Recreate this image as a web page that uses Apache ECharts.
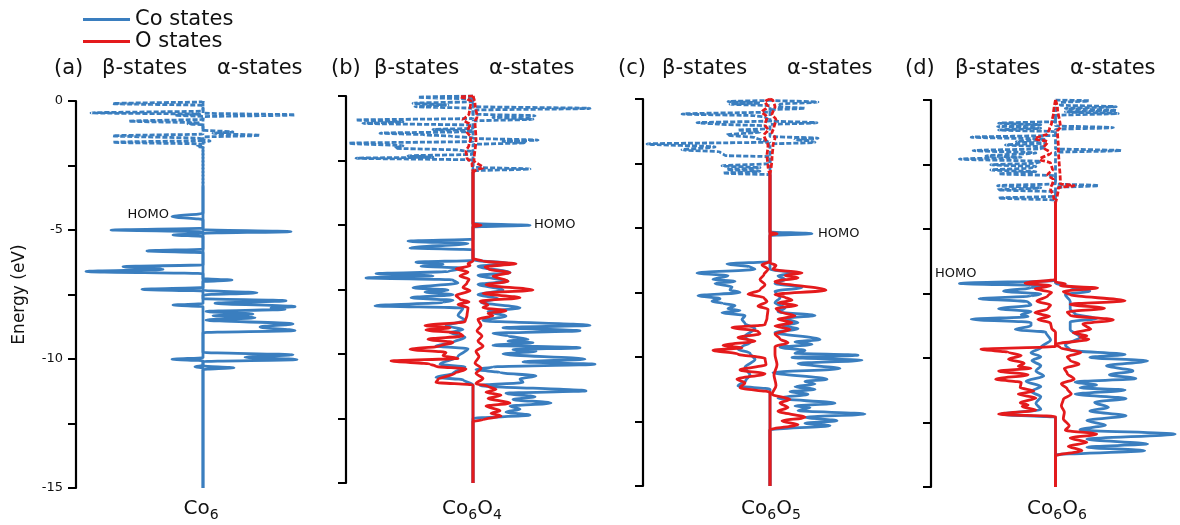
<!DOCTYPE html>
<html lang="en">
<head>
    <meta charset="UTF-8">
    <title>Co6On DOS</title>
    <script src="https://cdn.jsdelivr.net/npm/echarts@6/dist/echarts.min.js"></script>
    <style>
        html, body { margin: 0; padding: 0; background: #fff; }
        #main { width: 1180px; height: 525px; }
    </style>
</head>
<body>
<div id="main"></div>
<script>
    // 每条曲线: [能量 eV, 态密度], 负值 = β 自旋(左), 正值 = α 自旋(右)
    var energyTicks = [0, -5, -10, -15];
    var panelTags = ['(a)', '(b)', '(c)', '(d)'];

    // (a) Co6
    var aCoBetaUnocc = [[0,0],[-0.03,0],[-0.10,-9.0],[-0.17,0],[-0.39,0],[-0.46,-11.2],[-0.51,-0.3],[-0.55,-2.8],[-0.6,0],[-0.71,0],[-0.78,-7.4],[-0.85,-0.3],[-0.88,-1.5],[-0.93,0],[-1.28,0],[-1.35,-9.0],[-1.45,-0.2],[-1.53,0],[-1.60,-9.0],[-1.67,0],[-1.72,0],[-1.76,-0.6],[-1.8,0],[-3.3,0]];
    var aCoAlphaUnocc = [[0,0],[-0.47,0],[-0.54,9.2],[-0.61,0],[-1.13,0],[-1.20,3.0],[-1.25,1.0],[-1.33,5.7],[-1.40,0],[-1.50,0],[-1.55,0.7],[-1.6,0],[-3.3,0]];
    var aCoBetaOcc = [[-3.3,0],[-4.35,0],[-4.48,-3.1],[-4.6,0],[-4.93,0],[-5.0,-9.2],[-5.07,0],[-5.13,0],[-5.19,-3.0],[-5.25,0],[-5.74,0],[-5.81,-5.6],[-5.88,0],[-6.35,0],[-6.42,-8.0],[-6.52,-4.0],[-6.61,-11.7],[-6.69,0],[-7.23,0],[-7.30,-6.1],[-7.37,0],[-7.85,0],[-7.91,-3.0],[-7.97,0],[-9.95,0],[-10.01,-3.1],[-10.07,0],[-10.25,0],[-10.3,-0.8],[-10.35,0],[-15,0]];
    var aCoAlphaOcc = [[-3.3,0],[-4.99,0],[-5.06,8.8],[-5.13,0],[-6.88,0],[-6.94,2.9],[-7.0,0],[-7.34,0],[-7.43,5.4],[-7.52,0],[-7.66,0],[-7.74,8.3],[-7.84,1.2],[-7.97,9.2],[-8.02,6.8],[-8.07,8.2],[-8.16,0.3],[-8.26,5.0],[-8.32,1.0],[-8.40,5.2],[-8.49,0.3],[-8.64,9.0],[-8.76,5.7],[-8.90,9.2],[-8.98,0],[-9.74,0],[-9.84,9.0],[-9.93,4.2],[-10.02,9.4],[-10.10,0],[-10.27,0],[-10.34,3.1],[-10.41,0],[-15,0]];

    // (b) Co6O4
    var bCoBetaUnocc = [[0,0],[-0.05,-5.5],[-0.12,0],[-0.22,0],[-0.28,-6.0],[-0.35,-2.5],[-0.41,-5.8],[-0.48,0],[-0.87,0],[-0.93,-11.7],[-1.0,-7.0],[-1.06,-11.0],[-1.13,0],[-1.25,0],[-1.3,-4.0],[-1.35,0],[-1.38,0],[-1.44,-9.3],[-1.5,-5.0],[-1.56,-2.2],[-1.62,0],[-1.76,0],[-1.83,-12.4],[-1.93,-7.0],[-2.02,-7.8],[-2.1,-1.3],[-2.16,0],[-2.26,0],[-2.32,-6.5],[-2.37,-4.0],[-2.41,-11.7],[-2.48,0],[-2.95,0]];
    var bCoAlphaUnocc = [[0,0],[-0.41,0],[-0.48,11.7],[-0.55,0],[-0.70,0],[-0.77,6.2],[-0.83,2.0],[-0.90,6.0],[-0.97,0],[-1.64,0],[-1.71,6.5],[-1.76,3.0],[-1.81,5.3],[-1.88,0],[-2.76,0],[-2.83,5.7],[-2.9,0],[-2.95,0]];
    var bOBetaUnocc = [[0,0],[-0.03,-1.3],[-0.1,-0.6],[-0.2,-0.2],[-0.5,-0.3],[-0.7,-0.4],[-0.93,-1.0],[-1.1,-0.3],[-1.4,-0.6],[-1.6,-0.2],[-1.9,-0.4],[-2.15,-0.7],[-2.4,-0.6],[-2.6,-0.1],[-2.95,0]];
    var bOAlphaUnocc = [[0,0],[-0.3,0.2],[-0.8,0.4],[-1.0,0.2],[-1.7,0.3],[-2.5,0.1],[-2.78,1.0],[-2.86,0.3],[-2.95,0]];
    var bCoBetaOcc = [[-2.95,0],[-5.55,0],[-5.63,-6.5],[-5.72,-0.5],[-5.89,-6.3],[-5.96,0],[-6.37,0],[-6.44,-5.7],[-6.52,-3.0],[-6.6,-5.2],[-6.67,-1.0],[-6.8,-2.5],[-6.89,-9.7],[-6.97,-4.0],[-7.05,-10.7],[-7.13,-2.0],[-7.25,-1.5],[-7.43,-6.0],[-7.52,-2.5],[-7.6,-4.8],[-7.7,-2.0],[-7.82,-6.2],[-7.92,-2.0],[-8.0,-3.0],[-8.13,-9.8],[-8.22,-1.0],[-8.5,-1.5],[-8.7,-0.8],[-8.9,-2.7],[-9.05,-1.0],[-9.17,-2.3],[-9.35,-0.8],[-9.55,-2.0],[-9.69,-3.7],[-9.8,-0.5],[-10.1,-1.5],[-10.4,-3.3],[-10.5,-0.8],[-10.75,-2.0],[-10.9,-3.7],[-11.0,-1.0],[-11.2,0],[-15,0]];
    var bCoAlphaOcc = [[-2.95,0],[-4.94,0],[-5.01,5.7],[-5.08,0],[-6.35,0],[-6.5,3.7],[-6.6,0.5],[-6.85,3.7],[-6.95,0.5],[-7.18,3.5],[-7.3,0.5],[-7.52,3.0],[-7.7,0.5],[-7.85,2.5],[-8.0,0.8],[-8.21,4.7],[-8.35,1.5],[-8.53,3.3],[-8.7,1.0],[-8.89,11.7],[-8.98,3.0],[-9.1,10.7],[-9.2,2.0],[-9.3,3.5],[-9.43,5.5],[-9.5,3.5],[-9.56,6.0],[-9.66,2.0],[-9.76,10.7],[-9.83,4.0],[-9.89,6.3],[-10.0,3.0],[-10.2,11.2],[-10.3,5.0],[-10.4,12.2],[-10.5,2.0],[-10.6,0.3],[-10.72,2.7],[-10.85,6.3],[-10.97,4.7],[-11.1,5.0],[-11.22,0.7],[-11.43,11.3],[-11.52,3.3],[-11.66,6.2],[-11.76,4.0],[-11.9,7.8],[-12.02,3.7],[-12.14,4.7],[-12.25,3.3],[-12.37,5.7],[-12.5,0],[-15,0]];
    var bOBetaOcc = [[-2.95,0],[-6.4,0],[-6.5,-0.5],[-6.58,-0.3],[-6.7,-1.7],[-6.82,-0.5],[-6.98,-1.3],[-7.1,-0.4],[-7.25,-0.6],[-7.42,-1.0],[-7.55,-0.3],[-7.73,-1.7],[-7.88,-1.3],[-7.98,-0.4],[-8.08,-1.5],[-8.2,-0.5],[-8.5,-0.6],[-8.75,-0.8],[-8.9,-4.8],[-8.98,-2.3],[-9.07,-4.7],[-9.2,-1.3],[-9.3,-1.0],[-9.43,-4.5],[-9.55,-2.0],[-9.69,-3.3],[-9.82,-6.3],[-9.94,-2.7],[-10.07,-3.0],[-10.17,-1.5],[-10.27,-8.2],[-10.39,-4.3],[-10.48,-3.7],[-10.58,-0.7],[-10.75,-1.8],[-10.98,-3.5],[-11.1,-3.7],[-11.2,0],[-15,0]];
    var bOAlphaOcc = [[-2.95,0],[-4.95,0],[-5.01,0.8],[-5.07,0],[-6.3,0],[-6.4,1.0],[-6.5,4.3],[-6.62,1.2],[-6.7,1.5],[-6.85,3.7],[-6.98,2.0],[-7.18,3.5],[-7.32,1.3],[-7.52,6.0],[-7.65,1.0],[-7.82,4.7],[-7.95,0.7],[-8.1,1.5],[-8.2,1.0],[-8.33,3.3],[-8.42,1.5],[-8.52,2.0],[-8.65,0.5],[-8.9,0.8],[-9.1,0.4],[-9.3,0.9],[-9.5,0.5],[-9.7,1.0],[-9.9,0.3],[-10.1,0.6],[-10.35,0.2],[-10.55,0.8],[-10.75,0.3],[-10.95,1.0],[-11.15,0.3],[-11.25,1.5],[-11.37,2.3],[-11.48,1.3],[-11.6,2.8],[-11.72,1.5],[-11.9,3.7],[-12.02,1.3],[-12.2,2.7],[-12.3,1.8],[-12.4,2.8],[-12.55,1.0],[-12.62,0],[-15,0]];

    // (c) Co6O5
    var cCoBetaUnocc = [[0,0],[-0.05,0],[-0.1,-4.2],[-0.15,-1.0],[-0.2,-4.0],[-0.26,0],[-0.5,0],[-0.58,-8.8],[-0.65,-1.5],[-0.7,-0.5],[-0.85,0],[-0.92,-7.3],[-0.98,-5.0],[-1.04,-0.5],[-1.15,-0.3],[-1.2,-3.2],[-1.28,-1.0],[-1.39,-4.3],[-1.5,-1.5],[-1.6,-0.8],[-1.67,0],[-1.74,-12.3],[-1.86,-5.5],[-1.97,-8.8],[-2.05,-5.0],[-2.19,-4.5],[-2.24,0],[-2.5,0],[-2.59,-4.8],[-2.66,-1.0],[-2.73,-4.3],[-2.8,-1.0],[-2.87,-4.7],[-2.93,0]];
    var cCoAlphaUnocc = [[0,0],[-0.05,0],[-0.12,4.8],[-0.2,1.0],[-0.3,0.8],[-0.36,3.5],[-0.42,0],[-0.85,0],[-0.92,4.7],[-0.99,0],[-1.45,0],[-1.52,4.8],[-1.57,2.5],[-1.62,4.0],[-1.68,4.5],[-1.75,0],[-2.93,0]];
    var cOBetaUnocc = [[0,0],[-0.1,-0.5],[-0.3,-0.2],[-0.5,-0.8],[-0.7,-0.3],[-1.0,-0.5],[-1.2,-0.2],[-1.4,-0.6],[-1.8,-0.2],[-2.2,-0.3],[-2.6,-0.2],[-2.93,0]];
    var cOAlphaUnocc = [[0,0],[-0.05,0.3],[-0.3,0.5],[-0.6,0.2],[-0.8,0.6],[-1.1,0.4],[-1.3,0.2],[-1.5,0.5],[-1.8,0.3],[-2.3,0.2],[-2.93,0]];
    var cCoBetaOcc = [[-2.93,0],[-6.3,0],[-6.39,-4.3],[-6.5,-2.0],[-6.6,-1.5],[-6.74,-7.3],[-6.85,-4.2],[-6.99,-5.7],[-7.07,-3.5],[-7.15,-5.5],[-7.28,-3.8],[-7.4,-4.0],[-7.5,-3.0],[-7.62,-7.2],[-7.74,-5.0],[-7.84,-5.8],[-7.92,-4.7],[-8.0,-3.5],[-8.13,-4.2],[-8.2,-3.0],[-8.28,-4.8],[-8.4,-2.5],[-8.55,-2.8],[-8.7,-2.5],[-8.9,-1.5],[-9.2,-2.5],[-9.45,-2.0],[-9.6,-2.8],[-9.7,-3.2],[-9.85,-2.0],[-10.1,-1.5],[-10.4,-2.5],[-10.7,-2.0],[-10.9,-2.4],[-11.12,-3.2],[-11.25,0],[-15,0]];
    var cCoAlphaOcc = [[-2.93,0],[-5.15,0],[-5.22,4.2],[-5.29,0],[-6.6,0],[-6.74,2.5],[-6.85,0.8],[-7.0,1.5],[-7.15,0.5],[-7.3,3.2],[-7.45,0.5],[-7.7,1.0],[-7.9,0.5],[-8.1,1.5],[-8.25,0.8],[-8.39,4.5],[-8.5,1.5],[-8.67,2.8],[-8.78,1.2],[-8.9,2.8],[-9.05,0.5],[-9.32,5.0],[-9.42,2.5],[-9.51,4.2],[-9.62,1.0],[-9.75,3.5],[-9.85,2.5],[-9.93,8.8],[-10.02,2.2],[-10.13,9.2],[-10.25,2.8],[-10.45,7.0],[-10.6,0.3],[-10.86,5.7],[-10.95,3.5],[-11.05,4.5],[-11.15,2.5],[-11.25,4.5],[-11.35,2.0],[-11.44,3.8],[-11.6,0.8],[-11.79,6.5],[-11.9,2.5],[-11.96,4.0],[-12.08,2.8],[-12.21,9.5],[-12.34,3.5],[-12.47,6.7],[-12.57,3.5],[-12.66,6.0],[-12.82,0],[-15,0]];
    var cOBetaOcc = [[-2.93,0],[-6.3,0],[-6.42,-0.8],[-6.6,-0.2],[-6.8,-0.6],[-7.0,-1.0],[-7.2,-0.5],[-7.4,-1.0],[-7.57,-2.2],[-7.7,-0.6],[-7.85,-0.3],[-8.03,-1.2],[-8.15,-0.2],[-8.5,-0.3],[-8.75,-0.5],[-8.86,-3.8],[-9.0,-1.2],[-9.1,-1.0],[-9.25,-3.2],[-9.38,-1.5],[-9.55,-4.7],[-9.64,-2.8],[-9.74,-5.7],[-9.89,-3.2],[-10.05,-0.5],[-10.3,-0.4],[-10.5,-3.0],[-10.65,-0.5],[-10.86,-3.3],[-11.0,-2.5],[-11.19,-3.0],[-11.37,0],[-15,0]];
    var cOAlphaOcc = [[-2.93,0],[-5.16,0],[-5.22,0.7],[-5.28,0],[-6.35,0],[-6.45,0.6],[-6.6,0.3],[-6.74,3.2],[-6.84,1.5],[-6.93,2.8],[-7.08,0.5],[-7.41,5.6],[-7.58,0.5],[-7.68,1.5],[-7.8,2.2],[-7.9,0.8],[-8.0,2.7],[-8.12,0.6],[-8.25,1.0],[-8.41,2.5],[-8.53,0.8],[-8.67,2.2],[-8.8,0.5],[-8.93,2.0],[-9.1,0.5],[-9.3,1.0],[-9.45,1.8],[-9.6,0.5],[-9.9,0.5],[-10.3,0.7],[-10.7,0.4],[-11.1,0.6],[-11.45,0.2],[-11.64,2.0],[-11.78,1.0],[-11.96,1.8],[-12.1,0.8],[-12.34,3.5],[-12.48,1.2],[-12.62,2.8],[-12.82,0],[-15,0]];

    // (d) Co6O6
    var dCoBetaUnocc = [[0,0],[-0.83,0],[-0.9,-5.8],[-0.96,-1.5],[-1.03,-5.9],[-1.09,-1.5],[-1.16,-5.8],[-1.23,0],[-1.37,0],[-1.44,-8.6],[-1.52,-1.0],[-1.62,-4.0],[-1.68,-1.0],[-1.74,-5.1],[-1.82,-1.0],[-1.89,-1.5],[-1.96,-8.4],[-2.05,-2.0],[-2.17,-7.1],[-2.22,-3.5],[-2.29,-9.8],[-2.38,-1.5],[-2.45,-2.0],[-2.51,-6.6],[-2.58,-2.0],[-2.64,-2.5],[-2.71,-6.6],[-2.78,-2.0],[-2.86,-5.8],[-2.94,0],[-3.25,0],[-3.32,-5.9],[-3.4,-1.5],[-3.48,-5.9],[-3.56,0],[-3.73,0],[-3.8,-5.8],[-3.88,0],[-3.99,0]];
    var dCoAlphaUnocc = [[0,0],[-0.03,3.4],[-0.1,0.5],[-0.2,0.5],[-0.26,6.2],[-0.33,1.0],[-0.41,6.2],[-0.46,1.0],[-0.52,6.4],[-0.6,0],[-1.0,0],[-1.07,5.9],[-1.14,0],[-1.89,0],[-1.96,6.7],[-2.03,0],[-3.25,0],[-3.32,4.4],[-3.39,0],[-3.99,0]];
    var dOBetaUnocc = [[0,0],[-0.5,-0.2],[-0.9,-0.4],[-1.1,-0.6],[-1.3,-0.8],[-1.5,-2.1],[-1.62,-0.8],[-1.85,-1.2],[-2.05,-0.5],[-2.3,-1.6],[-2.45,-0.5],[-2.7,-0.3],[-2.9,-0.8],[-3.1,-0.2],[-3.45,-0.5],[-3.75,-0.2],[-3.99,0]];
    var dOAlphaUnocc = [[0,0],[-0.3,0.2],[-1.05,0.5],[-1.2,0.2],[-1.9,0.3],[-3.25,0.5],[-3.32,1.9],[-3.4,0.3],[-3.99,0]];
    var dCoBetaOcc = [[-3.99,0],[-7.0,0],[-7.11,-9.8],[-7.2,-1.0],[-7.28,-2.5],[-7.41,-5.3],[-7.52,-1.5],[-7.6,-2.5],[-7.70,-7.8],[-7.82,-2.8],[-7.95,-2.5],[-8.09,-5.8],[-8.2,-2.5],[-8.32,-3.5],[-8.40,-2.8],[-8.50,-8.6],[-8.62,-2.5],[-8.75,-2.5],[-8.89,-4.1],[-9.0,-1.0],[-9.3,-0.5],[-9.6,-1.5],[-9.8,-2.5],[-9.95,-1.5],[-10.1,-2.4],[-10.3,-1.5],[-10.5,-2.0],[-10.7,-1.2],[-10.9,-3.0],[-11.1,-1.5],[-11.3,-2.5],[-11.5,-1.5],[-11.75,-2.0],[-12.0,-1.5],[-12.18,-5.6],[-12.3,0],[-15,0]];
    var dCoAlphaOcc = [[-3.99,0],[-7.1,0],[-7.25,1.5],[-7.4,3.5],[-7.55,1.0],[-7.8,1.5],[-8.1,1.5],[-8.3,2.0],[-8.47,4.2],[-8.6,1.5],[-8.9,1.5],[-9.2,2.5],[-9.5,1.0],[-9.7,1.5],[-9.86,7.1],[-9.98,3.5],[-10.11,9.4],[-10.3,5.2],[-10.5,7.9],[-10.65,5.5],[-10.8,8.2],[-10.93,2.0],[-11.05,4.2],[-11.15,2.5],[-11.24,7.1],[-11.4,2.0],[-11.57,7.2],[-11.72,4.0],[-11.92,5.4],[-12.05,3.5],[-12.24,7.2],[-12.42,3.2],[-12.6,5.1],[-12.78,2.5],[-12.95,12.2],[-13.15,3.2],[-13.33,9.4],[-13.46,3.2],[-13.59,9.1],[-13.76,0],[-15,0]];
    var dOBetaOcc = [[-3.99,0],[-6.95,0],[-7.1,-3.1],[-7.2,-0.5],[-7.32,-2.1],[-7.45,-0.4],[-7.6,-0.8],[-7.8,-1.9],[-7.95,-0.5],[-8.1,-0.8],[-8.25,-2.1],[-8.38,-0.6],[-8.5,-1.8],[-8.65,-0.5],[-8.85,-0.4],[-9.0,0],[-9.55,0],[-9.66,-7.6],[-9.78,-4.8],[-9.9,-3.5],[-10.05,-4.8],[-10.2,-3.2],[-10.32,-3.8],[-10.4,-2.5],[-10.5,-5.8],[-10.65,-2.8],[-10.82,-6.1],[-10.95,-3.5],[-11.15,-3.6],[-11.28,-2.2],[-11.4,-3.8],[-11.55,-2.0],[-11.73,-3.6],[-11.82,-2.8],[-11.88,-3.4],[-12.02,-2.0],[-12.18,-5.8],[-12.27,0],[-15,0]];
    var dOAlphaOcc = [[-3.99,0],[-7.05,0],[-7.12,1.0],[-7.2,0.5],[-7.28,4.3],[-7.42,0.8],[-7.55,1.5],[-7.78,7.1],[-7.92,1.5],[-8.07,5.0],[-8.22,1.2],[-8.35,1.5],[-8.52,5.9],[-8.68,2.8],[-8.89,3.6],[-9.02,1.8],[-9.14,3.2],[-9.2,2.5],[-9.27,3.4],[-9.47,0],[-9.6,0.5],[-9.79,2.6],[-9.95,1.2],[-10.1,1.5],[-10.24,2.4],[-10.4,0.9],[-10.6,1.2],[-10.82,1.9],[-11.0,0.6],[-11.2,1.2],[-11.4,1.6],[-11.6,0.8],[-11.85,0.6],[-12.1,0.9],[-12.35,0.8],[-12.63,1.4],[-12.8,1.0],[-12.95,4.2],[-13.1,1.5],[-13.27,3.2],[-13.42,1.3],[-13.59,2.7],[-13.79,0],[-15,0]];

    // HOMO 标注 [dos, E]
    var homoPos = [[-3.2, -4.42], [5.9, -5.0], [4.6, -5.22], [-12.5, -6.73]];

    var blue = '#3a7ebf', red = '#e41a1c';
    var font = 'DejaVu Sans';

    var panels = [
        {left: 76, top: 101, co: [aCoBetaOcc, aCoAlphaOcc, aCoBetaUnocc, aCoAlphaUnocc], o: null,
         homoSide: 'left', name: '{n|Co}{s|6}', cx: 201, tagX: [54, 102, 217]},
        {left: 346, top: 96, co: [bCoBetaOcc, bCoAlphaOcc, bCoBetaUnocc, bCoAlphaUnocc], o: [bOBetaOcc, bOAlphaOcc, bOBetaUnocc, bOAlphaUnocc],
         homoSide: 'right', name: '{n|Co}{s|6}{n|O}{s|4}', cx: 472, tagX: [331, 374, 489]},
        {left: 643, top: 99, co: [cCoBetaOcc, cCoAlphaOcc, cCoBetaUnocc, cCoAlphaUnocc], o: [cOBetaOcc, cOAlphaOcc, cOBetaUnocc, cOAlphaUnocc],
         homoSide: 'right', name: '{n|Co}{s|6}{n|O}{s|5}', cx: 771, tagX: [618, 662, 787]},
        {left: 931, top: 100, co: [dCoBetaOcc, dCoAlphaOcc, dCoBetaUnocc, dCoAlphaUnocc], o: [dOBetaOcc, dOAlphaOcc, dOBetaUnocc, dOAlphaUnocc],
         homoSide: 'right', name: '{n|Co}{s|6}{n|O}{s|6}', cx: 1057, tagX: [905, 955, 1070]}
    ];

    function line(name, idx, arr, color, dashed) {
        return {
            type: 'line', name: name, xAxisIndex: idx, yAxisIndex: idx,
            data: arr.map(function (p) { return [p[1], p[0]]; }),
            symbol: 'none', silent: true, animation: false,
            smooth: 0.3, smoothMonotone: 'y',
            z: color === red ? 4 : 3,
            itemStyle: {color: color},
            lineStyle: {color: color, width: 2.8, type: dashed ? [5, 2] : 'solid'}
        };
    }

    var grids = [], xAxes = [], yAxes = [], series = [], graphics = [];
    panels.forEach(function (p, i) {
        grids.push({left: p.left, top: p.top, width: 254, height: 387});
        xAxes.push({type: 'value', gridIndex: i, min: -12.7, max: 12.7, show: false});
        yAxes.push({
            type: 'value', gridIndex: i, min: -15, max: 0, interval: 2.5,
            splitLine: {show: false},
            axisLine: {show: true, onZero: false, lineStyle: {color: '#000', width: 2.2}},
            axisTick: {show: true, length: 8, lineStyle: {color: '#000', width: 2}},
            axisLabel: {
                show: i === 0, margin: 13, fontSize: 13, color: '#111', fontFamily: font,
                formatter: function (v) { return energyTicks.indexOf(v) >= 0 ? String(v) : ''; }
            },
            name: i === 0 ? 'Energy (eV)' : '', nameLocation: 'middle', nameGap: 48,
            nameTextStyle: {fontSize: 17, color: '#111', fontFamily: font}
        });

        var homoLabel = {
            show: true, formatter: 'HOMO', position: p.homoSide, distance: 2,
            fontSize: 13, color: '#111', fontFamily: font
        };
        var solidCo = line('Co states', i, p.co[0], blue, false);
        solidCo.markPoint = {
            symbol: 'circle', symbolSize: 0, silent: true, animation: false,
            label: homoLabel,
            data: [{coord: homoPos[i]}]
        };
        series.push(solidCo);
        series.push(line('Co states', i, p.co[1], blue, false));
        series.push(line('Co states', i, p.co[2], blue, true));
        series.push(line('Co states', i, p.co[3], blue, true));
        if (p.o) {
            series.push(line('O states', i, p.o[0], red, false));
            series.push(line('O states', i, p.o[1], red, false));
            series.push(line('O states', i, p.o[2], red, true));
            series.push(line('O states', i, p.o[3], red, true));
        }

        [panelTags[i], 'β-states', 'α-states'].forEach(function (t, k) {
            graphics.push({
                type: 'text', left: p.tagX[k], top: 58,
                style: {text: t, fontSize: 21, fill: '#111', fontFamily: font}
            });
        });
        graphics.push({
            type: 'text', x: p.cx, y: 495,
            style: {
                text: p.name, fill: '#111', fontFamily: font, align: 'center',
                rich: {
                    n: {fontSize: 20, fontFamily: font, fill: '#111', lineHeight: 24, verticalAlign: 'bottom'},
                    s: {fontSize: 14, fontFamily: font, fill: '#111', lineHeight: 24, verticalAlign: 'bottom', padding: [0, 0, -3, 0]}
                }
            }
        });
    });

    var myChart = echarts.init(document.getElementById('main'));
    myChart.setOption({
        animation: false,
        backgroundColor: '#fff',
        legend: {
            left: 78, top: 4, orient: 'vertical', itemGap: 1, itemWidth: 47, itemHeight: 3,
            icon: 'rect', selectedMode: false, itemTextGap: 6,
            textStyle: {fontSize: 21, color: '#111', fontFamily: font},
            data: ['Co states', 'O states']
        },
        grid: grids,
        xAxis: xAxes,
        yAxis: yAxes,
        series: series,
        graphic: graphics
    });
</script>
</body>
</html>
